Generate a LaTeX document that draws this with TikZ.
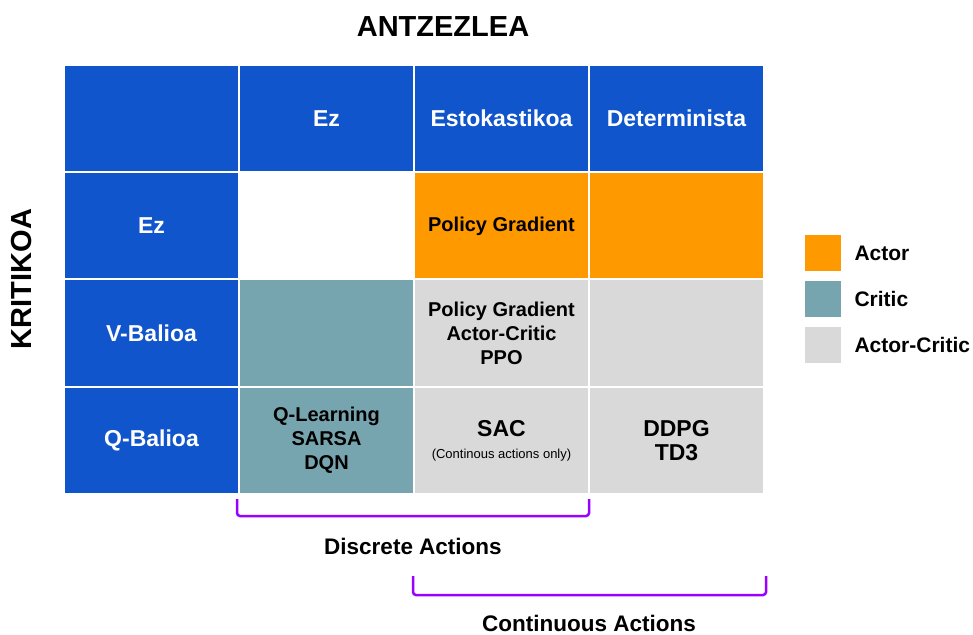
\documentclass[tikz,border=0pt]{standalone}
\usepackage{fontspec}
\setmainfont{Liberation Sans}

\definecolor{hdrblue}{HTML}{1155CC}
\definecolor{actororange}{HTML}{FF9900}
\definecolor{criticteal}{HTML}{76A5AF}
\definecolor{acgrey}{HTML}{D9D9D9}
\definecolor{bracketpurple}{HTML}{9900FF}

\tikzset{
    cell/.style={draw=white, line width=2pt, minimum width=175pt, minimum height=107.25pt,
        inner sep=0pt, align=center, text=black, font=\bfseries\fontsize{20}{24}\selectfont},
    hdrcell/.style={cell, fill=hdrblue, text=white, font=\bfseries\fontsize{23}{27}\selectfont},
    bigcell/.style={cell, font=\bfseries\fontsize{23}{24}\selectfont},
    legendbox/.style={fill=#1, minimum size=36pt, inner sep=0pt},
    legendtext/.style={anchor=west, font=\bfseries\fontsize{21}{25}\selectfont},
    bracket/.style={draw=bracketpurple, line width=2.5pt, rounded corners=3pt},
    axislabel/.style={font=\bfseries\fontsize{29}{33}\selectfont},
    rangelabel/.style={font=\bfseries\fontsize{22.5}{27}\selectfont}
}

\begin{document}
\begin{tikzpicture}[x=1pt, y=-1pt]
    \useasboundingbox (0,0) rectangle (973,634);

    \node[axislabel] (actor) at (443,27) {ANTZEZLEA};
    \node[axislabel, rotate=90] (critic) at (22,279) {KRITIKOA};

    % header row and column
    \node[hdrcell] (corner) at (151.5,118.6) {};
    \node[hdrcell] (hEz) at (326.5,118.6) {Ez};
    \node[hdrcell] (hStoch) at (501.5,118.6) {Estokastikoa};
    \node[hdrcell] (hDet) at (676.5,118.6) {Determinista};
    \node[hdrcell] (vEz) at (151.5,225.9) {Ez};
    \node[hdrcell] (vV) at (151.5,333.1) {V-Balioa};
    \node[hdrcell] (vQ) at (151.5,440.4) {Q-Balioa};

    % body
    \node[cell, fill=white] (ezEz) at (326.5,225.9) {};
    \node[cell, fill=actororange] (ezStoch) at (501.5,225.9) {Policy Gradient};
    \node[cell, fill=actororange] (ezDet) at (676.5,225.9) {};
    \node[cell, fill=criticteal] (vEzC) at (326.5,333.1) {};
    \node[cell, fill=acgrey] (vStoch) at (501.5,333.1) {Policy Gradient\\Actor-Critic\\PPO};
    \node[cell, fill=acgrey] (vDet) at (676.5,333.1) {};
    \node[cell, fill=criticteal] (qEz) at (326.5,440.4) {Q-Learning\\SARSA\\DQN};
    \node[bigcell, fill=acgrey] (qStoch) at (501.5,440.4) {SAC\\[-2pt]{\mdseries\fontsize{13}{15}\selectfont(Continous actions only)}};
    \node[bigcell, fill=acgrey] (qDet) at (676.5,440.4) {DDPG\\TD3};

    % legend
    \node[legendbox=actororange] (lgActor) at (823,253) {};
    \node[legendbox=criticteal] (lgCritic) at (823,299) {};
    \node[legendbox=acgrey] (lgAC) at (823,345) {};
    \node[legendtext] at (851,253) {Actor};
    \node[legendtext] at (851,299) {Critic};
    \node[legendtext] at (851,345) {Actor-Critic};

    % action ranges
    \draw[bracket] (237,499) -- (237,516) -- (589,516) -- (589,499);
    \node[rangelabel] (discrete) at (413,546) {Discrete Actions};
    \draw[bracket] (413,576) -- (413,595) -- (766,595) -- (766,576);
    \node[rangelabel] (continuous) at (589,623) {Continuous Actions};
\end{tikzpicture}
\end{document}
